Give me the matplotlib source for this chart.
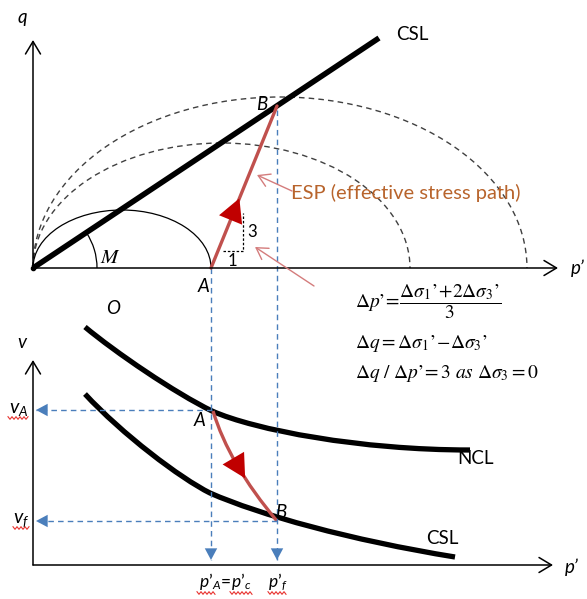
import math
import matplotlib.pyplot as plt
from matplotlib.patches import Arc, PathPatch
from matplotlib.path import Path

plt.rcParams['font.family'] = ['Lato', 'DejaVu Sans']
plt.rcParams['mathtext.fontset'] = 'custom'
plt.rcParams['mathtext.rm'] = 'Lato'
plt.rcParams['mathtext.it'] = 'Lato:italic'
plt.rcParams['mathtext.bf'] = 'Lato:bold'

# ---- q-p' plane (drawing units, y grows downward) ----
origin_qp = (33, 268)
q_axis_tip = (33, 40)
p_axis_tip_top = (558, 268)
csl_top_end = (379, 38)
point_A = (211, 268)
point_B = (277, 106)

# yield ellipses: (centre x, half width, height)
small_locus = (122, 89, 58)
yield_inner = (221.5, 188.5, 125)
yield_outer = (280, 247, 171)
m_angle_radius = 64

# ---- v-p' plane ----
origin_vp = (33, 565)
v_axis_tip = (33, 360)
p_axis_tip_bot = (553, 565)
vp_A = (212, 410)
vp_B = (277, 521)
ncl_ctrl = [(85, 327), (115, 352), (175, 393), (212, 411),
            (255, 430), (360, 450), (470, 450)]
csl_ctrl = [(85, 394), (122, 434), (180, 478), (210, 493),
            (260, 515), (350, 540), (455, 557)]
path_ctrl = [(213, 411), (229, 464), (277, 521)]

# spell-check underlines under the axis symbols: (x start, x end, y)
squiggles = [(8, 29, 418), (13, 29, 528), (197, 215, 593),
             (230, 252, 593), (268, 287, 593)]

black = '#000000'
red_line = '#C0504D'
red_head = '#C00000'
red_thin = '#D47C7C'
blue = '#4A7EBB'
brown = '#B8642C'
grey = '#404040'

fig = plt.figure(figsize=(5.87, 5.99), dpi=100)
ax = fig.add_axes([0, 0, 1, 1])
ax.set_xlim(0, 587)
ax.set_ylim(599, 0)
ax.axis('off')


def axis_arrow(start, tip):
    ax.annotate('', xy=tip, xytext=start,
                arrowprops=dict(arrowstyle='->,head_length=0.5,head_width=0.3',
                                lw=1.1, color=black, shrinkA=0, shrinkB=0,
                                mutation_scale=18))


def head(tail, tip, color, scale=25):
    ax.annotate('', xy=tip, xytext=tail,
                arrowprops=dict(arrowstyle='-|>,head_length=0.6,head_width=0.32',
                                lw=0, color=color, shrinkA=0, shrinkB=0,
                                mutation_scale=scale))


def blue_drop(start, end):
    ax.plot([start[0], end[0]], [start[1], end[1]], color=blue, lw=1,
            dashes=(4, 3))
    dx = end[0] - start[0]
    dy = end[1] - start[1]
    n = (dx ** 2 + dy ** 2) ** 0.5
    tail = (end[0] - 10 * dx / n, end[1] - 10 * dy / n)
    head(tail, end, blue, scale=14)


# axes
axis_arrow(origin_qp, q_axis_tip)
axis_arrow(origin_qp, p_axis_tip_top)
axis_arrow(origin_vp, v_axis_tip)
axis_arrow(origin_vp, p_axis_tip_bot)

# yield loci
for cx, hw, h in (yield_inner, yield_outer):
    ax.add_patch(Arc((cx, origin_qp[1]), 2 * hw, 2 * h, theta1=180, theta2=360,
                     color=grey, lw=1, linestyle=(0, (4, 3))))
cx, hw, h = small_locus
ax.add_patch(Arc((cx, origin_qp[1]), 2 * hw, 2 * h, theta1=180, theta2=360,
                 color=black, lw=0.9))

# CSL in q-p'
ax.plot([origin_qp[0], csl_top_end[0]], [origin_qp[1], csl_top_end[1]],
        color=black, lw=4, solid_capstyle='butt')
ax.plot(*origin_qp, 'o', color=black, ms=3)
m_deg = math.degrees(math.atan2(origin_qp[1] - csl_top_end[1],
                                csl_top_end[0] - origin_qp[0]))
ax.add_patch(Arc(origin_qp, 2 * m_angle_radius, 2 * m_angle_radius,
                 theta1=360 - m_deg, theta2=360, color=black, lw=0.9))

# blue projection lines
blue_drop((point_A[0], point_A[1]), (point_A[0], 560))
blue_drop((point_B[0], point_B[1] + 4), (point_B[0], 560))
blue_drop(vp_A, (36, vp_A[1]))
blue_drop(vp_B, (36, vp_B[1]))

# effective stress path in q-p'
ax.plot([point_A[0], point_B[0]], [point_A[1], point_B[1]],
        color=red_line, lw=2.4, solid_capstyle='round')
t0, t1 = 0.30, 0.43
head((point_A[0] + t0 * (point_B[0] - point_A[0]),
      point_A[1] + t0 * (point_B[1] - point_A[1])),
     (point_A[0] + t1 * (point_B[0] - point_A[0]),
      point_A[1] + t1 * (point_B[1] - point_A[1])), red_head, scale=28)

# 3:1 slope triangle
ax.plot([223, 243, 243], [251, 251, 213], color=black, lw=0.9, dashes=(2, 1.5))
ax.text(252, 232, '3', fontsize=12, ha='center', va='center')
ax.text(232, 261, '1', fontsize=12, ha='center', va='center')

# ESP pointers
for tail, tip in (((292, 191), (257, 175)), ((314, 286), (255, 247))):
    ax.annotate('', xy=tip, xytext=tail,
                arrowprops=dict(arrowstyle='->,head_length=0.5,head_width=0.3',
                                lw=1, color=red_thin, shrinkA=0, shrinkB=0,
                                mutation_scale=16))
ax.text(291, 193, 'ESP (effective stress path)', color=brown, fontsize=14.5,
        ha='left', va='center')


# v-p' curves
def bezier_patch(ctrl, lw, color):
    codes = [Path.MOVETO] + [Path.CURVE4] * (len(ctrl) - 1)
    ax.add_patch(PathPatch(Path(ctrl, codes), fill=False, lw=lw,
                           edgecolor=color, capstyle='butt'))


bezier_patch(ncl_ctrl, 3.8, black)
bezier_patch(csl_ctrl, 3.8, black)
ax.add_patch(PathPatch(Path(path_ctrl, [Path.MOVETO, Path.CURVE3, Path.CURVE3]),
                       fill=False, lw=2.4, edgecolor=red_line))


def quad(t):
    (x0, y0), (x1, y1), (x2, y2) = path_ctrl
    return ((1 - t) ** 2 * x0 + 2 * t * (1 - t) * x1 + t ** 2 * x2,
            (1 - t) ** 2 * y0 + 2 * t * (1 - t) * y1 + t ** 2 * y2)


head(quad(0.40), quad(0.62), red_head, scale=28)

# wavy red underlines
for x0, x1, y in squiggles:
    xs, ys = [], []
    x, k = x0, 0
    while x <= x1:
        xs.append(x)
        ys.append(y + (1.3 if k % 2 else -1.3))
        x += 2
        k += 1
    ax.plot(xs, ys, color='#E8322E', lw=0.8)

# labels
lab = dict(fontsize=13.5, style='italic', ha='center', va='center')
ax.text(22, 18, 'q', **lab)
ax.text(578, 268, "p\u2019", **lab)
ax.text(22, 343, 'v', **lab)
ax.text(572, 567, "p\u2019", **lab)
ax.text(204, 286, 'A', **lab)
ax.text(262, 104, 'B', **lab)
ax.text(200, 421, 'A', **lab)
ax.text(281, 513, 'B', **lab)
ax.text(113, 308, 'O', **lab)
ax.text(110, 257, '$M$', fontsize=15, ha='center', va='center',
        math_fontfamily='stix')
ax.text(412, 35, 'CSL', fontsize=13.5, ha='center', va='center')
ax.text(457, 458, 'NCL', fontsize=13.5, ha='left', va='center')
ax.text(442, 539, 'CSL', fontsize=13.5, ha='center', va='center')
ax.text(19, 410, '$v_A$', fontsize=14, ha='center', va='center')
ax.text(21, 520, '$v_f$', fontsize=14, ha='center', va='center')
ax.text(225, 582, "$p\u2019_A\\!=\\!p\u2019_c$", fontsize=12.5,
        ha='center', va='center')
ax.text(278, 582, "$p\u2019_f$", fontsize=12.5, ha='center', va='center')

# relations along the path
eq = dict(fontsize=14, ha='left', va='center', math_fontfamily='stix')
ax.text(355, 302,
        "$\\Delta p\u2019\\!=\\!\\dfrac{\\Delta\\sigma_1{}\u2019\\!+\\!2\\Delta\\sigma_3{}\u2019}{3}$",
        **eq)
ax.text(355, 343,
        "$\\Delta q = \\Delta\\sigma_1{}\u2019\\!-\\!\\Delta\\sigma_3{}\u2019$", **eq)
ax.text(355, 373,
        "$\\Delta q\\ /\\ \\Delta p\u2019\\!= 3\\ as\\ \\Delta\\sigma_3 = 0$", **eq)

fig.savefig('out.png', dpi=100)
